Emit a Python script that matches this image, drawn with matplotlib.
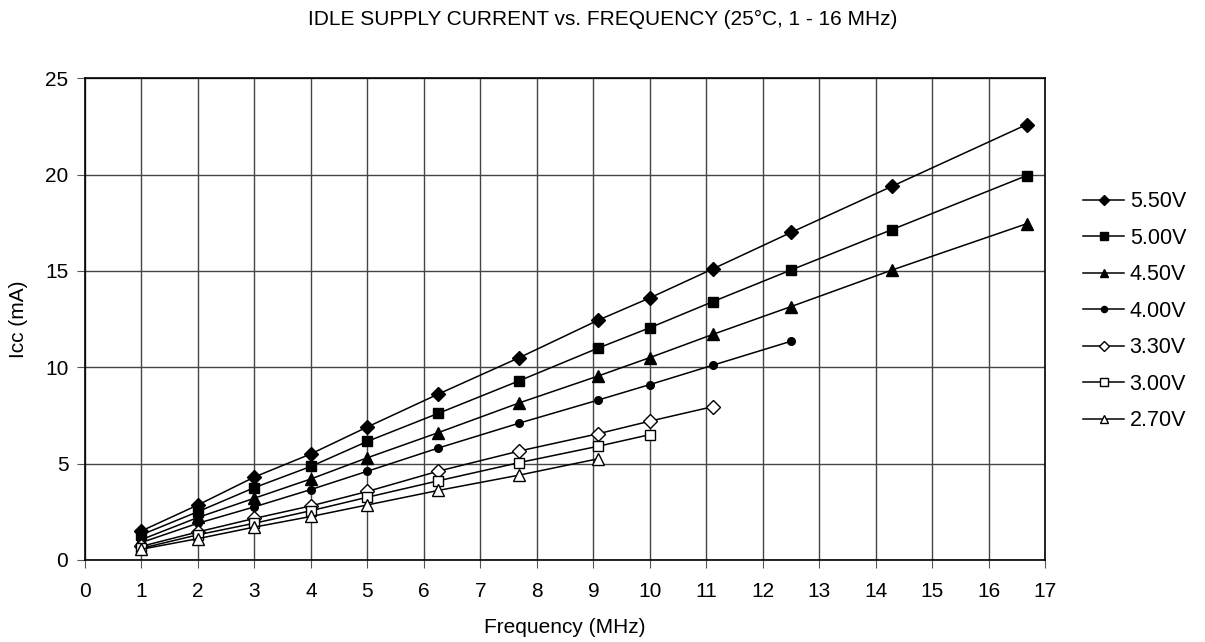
import matplotlib.pyplot as plt

plt.rcParams['font.family'] = ['Liberation Sans', 'DejaVu Sans']

# frequency points (MHz)
freq = [1, 2, 3, 4, 5, 6.25, 7.69, 9.09, 10, 11.11, 12.5, 14.29, 16.67]

# Icc (mA) per supply voltage
i550 = [1.5, 2.85, 4.3, 5.5, 6.9, 8.6, 10.5, 12.45, 13.6, 15.1, 17.0, 19.4, 22.6]
i500 = [1.3, 2.5, 3.75, 4.85, 6.15, 7.6, 9.3, 11.0, 12.05, 13.4, 15.05, 17.15, 19.95]
i450 = [1.05, 2.2, 3.2, 4.2, 5.3, 6.6, 8.15, 9.55, 10.5, 11.7, 13.15, 15.05, 17.45]
i400 = [0.9, 1.9, 2.75, 3.65, 4.6, 5.8, 7.1, 8.3, 9.1, 10.1, 11.35]
i330 = [0.7, 1.45, 2.15, 2.8, 3.55, 4.6, 5.65, 6.55, 7.2, 7.95]
i300 = [0.6, 1.3, 1.9, 2.55, 3.25, 4.1, 5.05, 5.9, 6.5]
i270 = [0.55, 1.1, 1.7, 2.25, 2.85, 3.6, 4.4, 5.25]

labels = ['5.50V', '5.00V', '4.50V', '4.00V', '3.30V', '3.00V', '2.70V']

fig = plt.figure(figsize=(12.05, 6.42), dpi=100)
ax = fig.add_axes([0.0705, 0.128, 0.797, 0.75])

series = [i550, i500, i450, i400, i330, i300, i270]
markers = ['D', 's', '^', 'o', 'D', 's', '^']
sizes = [7, 6.5, 8, 5.5, 7, 7.5, 8]
fills = ['black', 'black', 'black', 'black', 'white', 'white', 'white']

for ys, lab, m, ms, fc in zip(series, labels, markers, sizes, fills):
    ax.plot(freq[:len(ys)], ys, color='black', lw=1.1, marker=m, ms=ms,
            mfc=fc, mec='black', mew=1, label=lab)

ax.set_xlim(0, 17)
ax.set_ylim(0, 25)
ax.set_xticks(range(0, 18))
ax.set_yticks(range(0, 26, 5))
ax.grid(True, color='#444444', lw=1)
ax.set_axisbelow(True)
for s in ax.spines.values():
    s.set_color('black')
    s.set_linewidth(1.2)
ax.tick_params(labelsize=15, length=6, color='#555555')
ax.tick_params(axis='y', pad=6)
ax.tick_params(axis='x', pad=10)

ax.set_xlabel('Frequency (MHz)', fontsize=15, labelpad=12)
ax.set_ylabel('Icc (mA)', fontsize=15, labelpad=12)
fig.suptitle('IDLE SUPPLY CURRENT vs. FREQUENCY (25°C, 1 - 16 MHz)',
             fontsize=15, x=0.5, y=0.985)

fig.legend(loc='center left', bbox_to_anchor=(0.883, 0.515), frameon=False,
           fontsize=15.5, handlelength=1.9, labelspacing=0.72, handletextpad=0.25,
           markerscale=0.8)

fig.savefig('out.png', dpi=100)
